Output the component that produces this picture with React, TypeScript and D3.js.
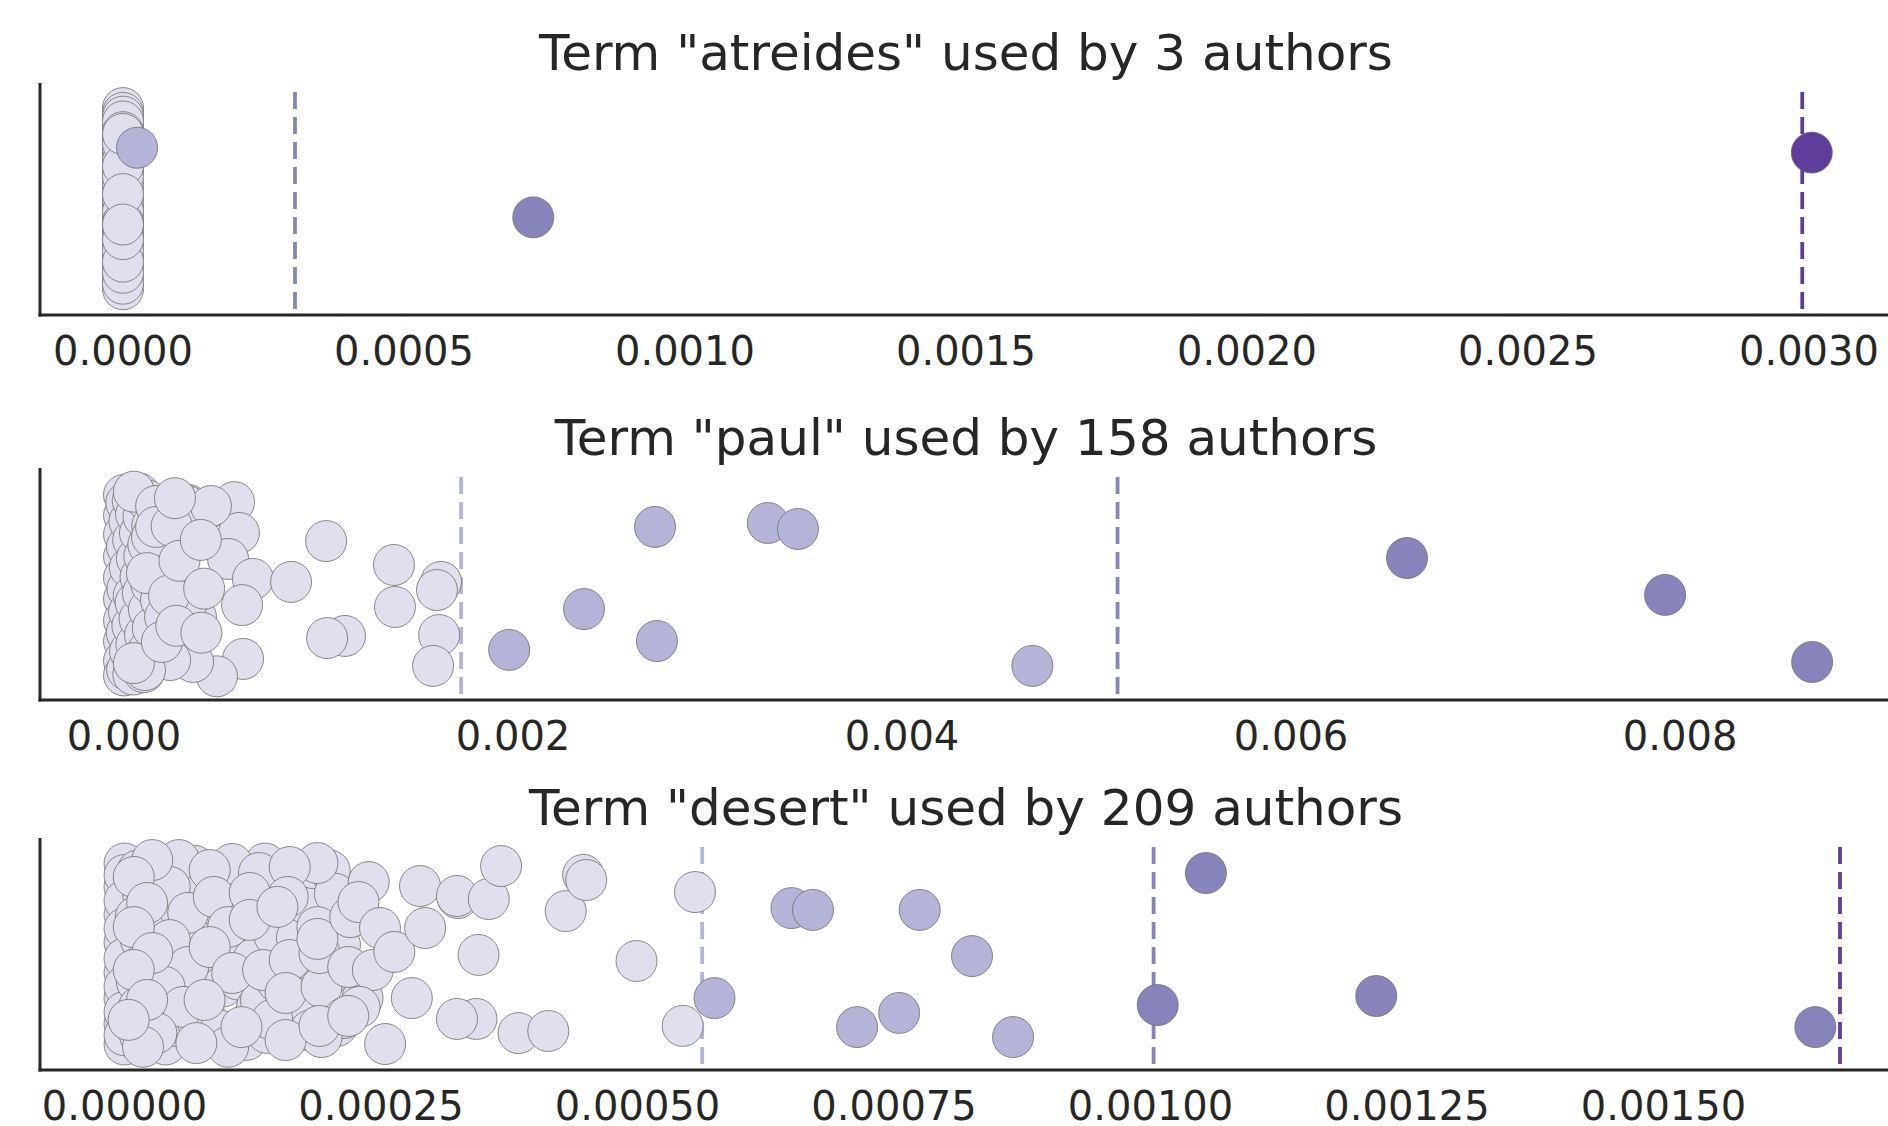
import React, { useEffect, useRef } from 'react';
import * as d3 from 'd3';

// Panel titles
const titles = [
  'Term "atreides" used by 3 authors',
  'Term "paul" used by 158 authors',
  'Term "desert" used by 209 authors',
];

// tier colours (light -> dark purples)
const tierColors = ['#dfdfed', '#b4b3d8', '#8784bc', '#5f3e9b'];

// x tick values per panel
const atreidesTicks = [0, 0.0005, 0.001, 0.0015, 0.002, 0.0025, 0.003];
const paulTicks = [0, 0.002, 0.004, 0.006, 0.008];
const desertTicks = [0, 0.00025, 0.0005, 0.00075, 0.001, 0.00125, 0.0015];

// dashed threshold lines: [value, tier]
const atreidesThresholds: [number, number][] = [[0.000306, 2], [0.002988, 3]];
const paulThresholds: [number, number][] = [[0.001733, 1], [0.005108, 2]];
const desertThresholds: [number, number][] = [[0.000563, 1], [0.001003, 2], [0.001672, 3]];

// points: [frequency, jitter, tier]
const atreidesPoints: [number, number, number][] = [
  [0, -0.392, 0], [0, 0.126, 0], [0, -0.262, 0], [0, 0.342, 0], [0, -0.046, 0], [0, 0.198, 0],
  [0, -0.371, 0], [0, 0.03, 0], [0, -0.19, 0], [0, 0.296, 0], [0, -0.12, 0], [0, 0.077, 0],
  [0, -0.355, 0], [0, 0.247, 0], [0, -0.07, 0], [0, 0.389, 0], [0, -0.215, 0], [0, 0.151, 0],
  [0, -0.31, 0], [0, 0.004, 0], [0, -0.168, 0], [0, 0.365, 0], [0, -0.097, 0], [0, 0.222, 0],
  [0, -0.334, 0], [0, 0.052, 0], [0, -0.24, 0], [0, 0.318, 0], [0, -0.142, 0], [0, 0.1, 0],
  [0, -0.288, 0], [0, 0.27, 0], [0, -0.021, 0], [0, 0.173, 0], [0, -0.28, 0], [0, 0.11, 0],
  [0.000025, -0.221, 1],
  [0.00073, 0.079, 2],
  [0.003005, -0.2, 3],
];

const paulPoints: [number, number, number][] = [
  [0, -0.384, 0], [0, -0.296, 0], [0, -0.213, 0], [0, -0.118, 0], [0, -0.027, 0], [0, 0.064, 0],
  [0, 0.158, 0], [0, 0.247, 0], [0, 0.331, 0], [0, 0.394, 0],
  [0.000012, -0.35, 0], [0.000015, -0.16, 0], [0.000018, 0.02, 0], [0.000014, 0.21, 0], [0.000016, 0.37, 0],
  [0.000028, -0.27, 0], [0.00003, -0.07, 0], [0.000026, 0.12, 0], [0.000031, 0.29, 0],
  [0.000045, -0.36, 0], [0.000047, -0.19, 0], [0.00005, 0.05, 0], [0.000043, 0.18, 0], [0.000048, 0.39, 0],
  [0.000062, -0.3, 0], [0.000066, -0.11, 0], [0.00006, 0.08, 0], [0.000064, 0.26, 0],
  [0.000078, -0.39, 0], [0.000082, -0.22, 0], [0.000085, -0.03, 0], [0.00008, 0.15, 0], [0.000088, 0.33, 0],
  [0.0001, -0.29, 0], [0.000104, -0.12, 0], [0.000097, 0.04, 0], [0.000108, 0.22, 0], [0.000102, 0.38, 0],
  [0.00012, -0.36, 0], [0.000125, -0.17, 0], [0.000128, 0.11, 0], [0.000122, 0.29, 0],
  [0.000145, -0.25, 0], [0.00014, 0.0, 0], [0.000148, 0.19, 0],
  [0.000051, -0.398, 0], [0.000165, -0.336, 0], [0.000329, -0.341, 0], [0.000442, -0.332, 0],
  [0.000566, -0.353, 0], [0.000591, -0.22, 0], [0.000535, -0.108, 0], [0.000663, -0.022, 0],
  [0.000859, -0.009, 0], [0.001039, -0.185, 0], [0.000607, 0.091, 0], [0.000612, 0.323, 0],
  [0.000478, 0.398, 0], [0.00037, 0.142, 0], [0.000355, 0.336, 0], [0.001388, -0.082, 0],
  [0.001393, 0.099, 0], [0.00163, -0.009, 0], [0.001609, 0.026, 0], [0.00162, 0.22, 0],
  [0.001589, 0.353, 0], [0.001136, 0.224, 0], [0.001044, 0.233, 0], [0.000308, -0.224, 0],
  [0.000308, -0.155, 0], [0.000303, -0.004, 0], [0.000324, 0.082, 0], [0.000237, 0.328, 0],
  [0.00019, 0.069, 0], [0.000144, -0.203, 0], [0.000108, 0.371, 0], [0.000165, -0.246, 0],
  [0.000118, -0.047, 0], [0.000211, 0.142, 0], [0.000051, 0.341, 0], [0.000324, -0.336, 0],
  [0.000447, -0.336, 0], [0.000245, -0.25, 0], [0.000232, 0.05, 0], [0.000195, 0.25, 0],
  [0.000269, 0.18, 0], [0.000285, -0.1, 0], [0.000395, -0.19, 0], [0.000412, 0.02, 0],
  [0.000398, 0.21, 0], [0.000262, -0.37, 0],
  [0.00273, -0.246, 1], [0.00331, -0.263, 1], [0.003465, -0.237, 1], [0.002365, 0.108, 1],
  [0.00198, 0.284, 1], [0.00274, 0.246, 1], [0.00467, 0.353, 1],
  [0.006596, -0.112, 2], [0.007923, 0.047, 2], [0.008679, 0.336, 2],
];

const desertPoints: [number, number, number][] = [
  [0, -0.39, 0], [0, -0.29, 0], [0, -0.17, 0], [0, -0.05, 0], [0, 0.08, 0], [0, 0.19, 0], [0, 0.3, 0], [0, 0.39, 0],
  [0, -0.34, 0], [0, -0.23, 0], [0, -0.11, 0], [0, 0.02, 0], [0, 0.14, 0], [0, 0.25, 0], [0, 0.35, 0],
  [0.000013, -0.36, 0], [0.000016, -0.06, 0], [0.000012, 0.12, 0], [0.000015, 0.35, 0],
  [0.000018, -0.26, 0], [0.000011, -0.16, 0], [0.000019, 0.04, 0], [0.000014, 0.23, 0],
  [0.000035, -0.3, 0], [0.000038, -0.15, 0], [0.000033, 0.03, 0], [0.000036, 0.27, 0], [0.00004, 0.39, 0],
  [0.000048, -0.37, 0], [0.000051, -0.21, 0], [0.000046, -0.02, 0], [0.00005, 0.09, 0], [0.000047, 0.31, 0],
  [0.000068, -0.38, 0], [0.00007, -0.1, 0], [0.000066, 0.13, 0], [0.000072, 0.3, 0],
  [0.000075, -0.27, 0], [0.000079, -0.05, 0], [0.000077, 0.24, 0],
  [0.000092, -0.31, 0], [0.000095, -0.19, 0], [0.00009, 0.01, 0], [0.000096, 0.14, 0], [0.000093, 0.33, 0],
  [0.000113, -0.27, 0], [0.000117, -0.05, 0], [0.000111, 0.11, 0], [0.000119, 0.37, 0],
  [0.000124, -0.34, 0], [0.000127, -0.2, 0], [0.000126, 0.02, 0], [0.000129, 0.23, 0],
  [0.000137, -0.39, 0], [0.000141, -0.19, 0], [0.000133, 0.2, 0], [0.000139, 0.34, 0],
  [0.000146, -0.08, 0], [0.000149, 0.12, 0], [0.000151, -0.3, 0],
  [0.000155, -0.31, 0], [0.000168, -0.07, 0], [0.000165, 0.1, 0], [0.000172, 0.24, 0], [0.000176, -0.22, 0],
  [0.000181, 0.33, 0], [0.000184, -0.37, 0], [0.000179, 0.02, 0],
  [0.0002, -0.36, 0], [0.000205, -0.26, 0], [0.000199, 0.09, 0], [0.000207, 0.31, 0], [0.00021, -0.04, 0],
  [0.000238, -0.31, 0], [0.000232, 0.19, 0],
  [0.000053, -0.405, 0], [0.000044, -0.289, 0], [0.000062, -0.177, 0], [0.000044, -0.06, 0],
  [0.000062, 0.056, 0], [0.000039, 0.142, 0], [0.000057, 0.228, 0], [0.000031, 0.341, 0],
  [0.000018, 0.4, 0], [0.000027, -0.405, 0], [0.000009, -0.332, 0], [0.000022, -0.22, 0],
  [0.000009, -0.116, 0], [0.000027, -0.004, 0], [0.000009, 0.069, 0], [0.000022, 0.198, 0],
  [0.000004, 0.284, 0], [0.000105, -0.388, 0], [0.000083, -0.362, 0], [0.000087, -0.246, 0],
  [0.000101, -0.116, 0], [0.000083, -0.03, 0], [0.000105, 0.082, 0], [0.000078, 0.198, 0],
  [0.000101, 0.4, 0], [0.00007, 0.384, 0], [0.000131, -0.349, 0], [0.000122, -0.263, 0],
  [0.000144, 0.284, 0], [0.000114, 0.315, 0], [0.000122, -0.147, 0], [0.000135, 0.069, 0],
  [0.000161, 0.026, 0], [0.000157, 0.168, 0], [0.000192, 0.142, 0], [0.00019, -0.004, 0],
  [0.000188, -0.116, 0], [0.000218, 0.056, 0], [0.000214, 0.276, 0], [0.000192, 0.358, 0],
  [0.000157, 0.371, 0], [0.000188, -0.392, 0], [0.000188, -0.065, 0], [0.00019, 0.31, 0],
  [0.000161, -0.375, 0], [0.000159, -0.246, 0], [0.000149, -0.203, 0], [0.00022, -0.159, 0],
  [0.000228, -0.224, 0], [0.000242, 0.069, 0], [0.000229, 0.228, 0], [0.000218, 0.267, 0],
  [0.000249, -0.112, 0], [0.000263, -0.009, 0], [0.000254, 0.388, 0], [0.00028, 0.19, 0],
  [0.000293, -0.112, 0], [0.000288, -0.293, 0], [0.000325, -0.241, 0], [0.000324, -0.25, 0],
  [0.000343, 0.28, 0], [0.000324, 0.28, 0], [0.000384, 0.341, 0], [0.000413, 0.332, 0],
  [0.000345, 0.004, 0], [0.000355, -0.237, 0], [0.000367, -0.379, 0], [0.00043, -0.185, 0],
  [0.000447, -0.341, 0], [0.00045, -0.319, 0], [0.000499, 0.03, 0], [0.000544, 0.31, 0],
  [0.000556, -0.267, 0],
  [0.000575, 0.19, 1], [0.00065, -0.198, 1], [0.000671, -0.19, 1], [0.000775, -0.19, 1],
  [0.000826, 0.009, 1], [0.000714, 0.315, 1], [0.000755, 0.254, 1], [0.000866, 0.358, 1],
  [0.001054, -0.349, 2], [0.001007, 0.22, 2], [0.00122, 0.181, 2], [0.001648, 0.315, 2],
];

const WIDTH = 1888;
const HEIGHT = 1126;

const App = () => {
  const ref = useRef<SVGSVGElement>(null);

  useEffect(() => {
    if (!ref.current) return;
    const svg = d3.select(ref.current);
    svg.selectAll('*').remove();

    const panels = [
      { title: titles[0], points: atreidesPoints, lines: atreidesThresholds, ticks: atreidesTicks, fmt: '.4f',
        domain: [-0.0001477, 0.0031406], top: 83 },
      { title: titles[1], points: paulPoints, lines: paulThresholds, ticks: paulTicks, fmt: '.3f',
        domain: [-0.0004319, 0.009069], top: 468 },
      { title: titles[2], points: desertPoints, lines: desertThresholds, ticks: desertTicks, fmt: '.5f',
        domain: [-0.0000824, 0.0017188], top: 838 },
    ];

    const left = 40, right = WIDTH, plotH = 232;
    const text = '#262626';

    panels.forEach(p => {
      const bottom = p.top + plotH;
      const x = d3.scaleLinear().domain(p.domain).range([left, right]);
      // single category strip: jitter in [-0.4, 0.4] within band [-0.5, 0.5]
      const y = d3.scaleLinear().domain([-0.5, 0.5]).range([p.top, bottom]);
      const g = svg.append('g');

      // threshold lines
      g.selectAll('line.thr')
        .data(p.lines)
        .enter()
        .append('line')
        .attr('x1', d => x(d[0]))
        .attr('x2', d => x(d[0]))
        .attr('y1', p.top + 9)
        .attr('y2', bottom)
        .attr('stroke', d => tierColors[d[1]])
        .attr('stroke-width', 3.8)
        .attr('stroke-dasharray', '17,8');

      // points, lighter tiers first
      const pts = [...p.points].sort((a, b) => a[2] - b[2]);
      g.selectAll('circle')
        .data(pts)
        .enter()
        .append('circle')
        .attr('cx', d => x(d[0]))
        .attr('cy', d => y(d[1]))
        .attr('r', 20.5)
        .attr('fill', d => tierColors[d[2]])
        .attr('stroke', '#6e6e6e')
        .attr('stroke-width', 0.8);

      // spines (left + bottom only)
      g.append('line')
        .attr('x1', left).attr('x2', left)
        .attr('y1', p.top).attr('y2', bottom + 1.5)
        .attr('stroke', text).attr('stroke-width', 3);
      g.append('line')
        .attr('x1', left - 1.5).attr('x2', right)
        .attr('y1', bottom).attr('y2', bottom)
        .attr('stroke', text).attr('stroke-width', 3);

      // tick labels
      const f = d3.format(p.fmt);
      g.selectAll('text.tick')
        .data(p.ticks)
        .enter()
        .append('text')
        .attr('x', d => x(d))
        .attr('y', bottom + 50)
        .attr('text-anchor', 'middle')
        .attr('font-size', 40)
        .attr('fill', text)
        .text(d => f(d));

      // title
      g.append('text')
        .attr('x', (left + right) / 2 + 2)
        .attr('y', p.top - 13)
        .attr('text-anchor', 'middle')
        .attr('font-size', 50)
        .attr('fill', text)
        .text(p.title);
    });
  }, []);

  return (
    <svg
      ref={ref}
      width={WIDTH}
      height={HEIGHT}
      style={{ position: 'absolute', top: 0, left: 0, background: '#fff', fontFamily: '"DejaVu Sans", sans-serif' }}
    />
  );
};

export default App;
